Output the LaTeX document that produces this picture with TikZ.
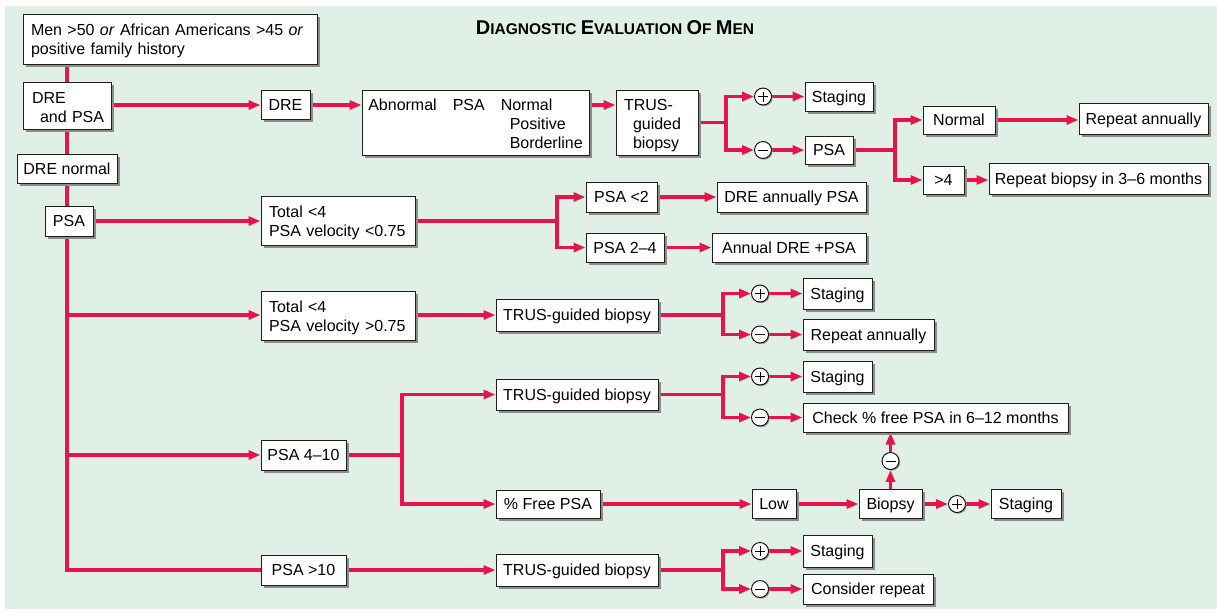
\documentclass[tikz,border=0pt]{standalone}
\usepackage{fontspec}
\setmainfont{Liberation Sans}
\usetikzlibrary{arrows.meta,shadows}
\definecolor{bgc}{RGB}{224,240,230}
\definecolor{myred}{RGB}{230,20,72}
\newcommand\bigLetter[1]{{\fontsize{20}{20}\selectfont #1}}
\newcommand\mlines[2][-2.5pt]{\raisebox{#1}[\height][\depth]{\begin{tabular}{@{}l@{}}#2\end{tabular}}}
\pgfdeclarelayer{bgl}
\pgfdeclarelayer{linel}
\pgfsetlayers{bgl,linel,main}
\tikzset{
  boxbase/.style={draw=black!88, fill=white, line width=1pt, inner sep=0pt,
    font=\fontsize{16}{18.8}\selectfont,
    drop shadow={shadow xshift=2.5pt, shadow yshift=-2.5pt, fill=black!45, opacity=1}},
  box/.style={boxbase, text height=11.5pt, text depth=0pt},
  lbox/.style={boxbase, align=left, inner xsep=8pt},
  ln/.style={draw=myred, line width=3.2pt},
  arr/.style={ln, -{Triangle[length=12pt,width=9pt]}},
  sgn/.style={circle, draw=black, fill=white, line width=0.9pt, minimum size=17pt, inner sep=0pt,
    drop shadow={shadow xshift=1.2pt, shadow yshift=-1.2pt, fill=black!40, opacity=1}},
  plussign/.style={sgn, path picture={\draw[line width=1pt]
    ([xshift=-5pt]path picture bounding box.center) -- ([xshift=5pt]path picture bounding box.center)
    ([yshift=-5pt]path picture bounding box.center) -- ([yshift=5pt]path picture bounding box.center);}},
  minussign/.style={sgn, path picture={\draw[line width=1pt]
    ([xshift=-5pt]path picture bounding box.center) -- ([xshift=5pt]path picture bounding box.center);}},
}
\begin{document}
\begin{tikzpicture}[x=1pt,y=-1pt]
\useasboundingbox (0,0) rectangle (1217,611);
\begin{pgfonlayer}{bgl}
\fill[bgc] (5,6) rectangle (1217,609);
\end{pgfonlayer}

% title
\node[font=\bfseries\fontsize{15.5}{20}\selectfont, anchor=base] (title) at (615,34)
  {\bigLetter{D}IAGNOSTIC \bigLetter{E}VALUATION \bigLetter{O}F \bigLetter{M}EN};

% left column
\node[lbox, text width=278pt, minimum height=50pt] (top) at (170,39)
  {\mlines{Men >50 \textit{or} African Americans >45 \textit{or}\\positive family history}};
\coordinate (v0) at (67,64);
\node[lbox, inner xsep=9pt, text width=70pt, minimum height=47pt] (dap) at (67,105.5)
  {\mlines[-3.5pt]{DRE\\\hspace*{8pt}and PSA}};
\node[box, minimum width=100pt, minimum height=29pt] (dn) at (67,168.5) {DRE normal};
\node[box, minimum width=48pt, minimum height=30pt] (psa) at (69,221) {PSA};

% row 1
\node[box, minimum width=49pt, minimum height=29pt] (dre) at (285.5,105) {DRE};
\node[boxbase, minimum width=227pt, minimum height=65pt] (abn) at (475.5,122.5)
  {\raisebox{-3pt}[\height][\depth]{\begin{tabular}{@{}l@{\hspace{16pt}}l@{\hspace{16pt}}l@{}}
   Abnormal & PSA & Normal\\
   & & \hspace*{9pt}Positive\\
   & & \hspace*{9pt}Borderline
   \end{tabular}}};
\node[lbox, text width=66pt, minimum height=65pt] (trus0) at (657,122.5)
  {\mlines[-3pt]{TRUS-\\\hspace*{9pt}guided\\\hspace*{9pt}biopsy}};
\coordinate (b0) at (726,122.5);
\node[plussign] (p0) at (763,96.5) {};
\node[minussign] (m0) at (763,150) {};
\node[box, minimum width=68pt, minimum height=29pt] (stg0) at (839,96.5) {Staging};
\node[box, minimum width=48pt, minimum height=28pt] (psaB) at (829,150) {PSA};
\coordinate (b1) at (895,150);
\node[box, minimum width=72pt, minimum height=28pt] (norm) at (959,120) {Normal};
\node[box, minimum width=41pt, minimum height=28pt] (gt4) at (943.5,180) {>4};
\node[box, minimum width=129pt, minimum height=31pt] (rep0) at (1143.5,119) {Repeat annually};
\node[box, minimum width=219pt, minimum height=31pt] (rb) at (1098.5,179) {Repeat biopsy in 3–6 months};

% row 2
\node[lbox, text width=138pt, minimum height=49pt] (tot1) at (338,220.5)
  {\mlines{Total <4\\PSA velocity <0.75}};
\coordinate (b2) at (557,221);
\node[box, minimum width=71pt, minimum height=30pt] (pl2) at (621.5,197) {PSA <2};
\node[box, minimum width=78pt, minimum height=29pt] (p24) at (625,247.5) {PSA 2–4};
\node[box, minimum width=149pt, minimum height=30pt] (drea) at (791.5,197) {DRE annually PSA};
\node[box, minimum width=154pt, minimum height=29pt] (ann) at (789,247.5) {Annual DRE +PSA};

% row 3
\node[lbox, text width=138pt, minimum height=49pt] (tot2) at (338,316)
  {\mlines{Total <4\\PSA velocity >0.75}};
\node[box, minimum width=162pt, minimum height=32pt] (trus1) at (577,315) {TRUS-guided biopsy};
\coordinate (b3) at (723,315);
\node[plussign] (p1) at (760,293.5) {};
\node[minussign] (m1) at (760,334.5) {};
\node[box, minimum width=69pt, minimum height=31pt] (stg1) at (837.5,293.5) {Staging};
\node[box, minimum width=131pt, minimum height=31pt] (rep1) at (868.5,334.5) {Repeat annually};

% row 4
\node[box, minimum width=85pt, minimum height=30pt] (p410) at (303.5,455) {PSA 4–10};
\coordinate (b4) at (402,455);
\node[box, minimum width=162pt, minimum height=31pt] (trus2) at (577,394.5) {TRUS-guided biopsy};
\coordinate (b5) at (723,394.5);
\node[plussign] (p2) at (760,376.5) {};
\node[minussign] (m2) at (760,417.5) {};
\node[box, minimum width=69pt, minimum height=31pt] (stg2) at (837.5,376.5) {Staging};
\node[box, minimum width=265pt, minimum height=29pt] (check) at (935.5,417.5) {Check \% free PSA in 6–12 months};
\node[box, minimum width=104pt, minimum height=28pt] (free) at (548,504) {\% Free PSA};
\node[box, minimum width=44pt, minimum height=29pt] (low) at (774,504) {Low};
\node[box, minimum width=63pt, minimum height=29pt] (bio) at (890.5,504) {Biopsy};
\node[minussign] (m3) at (890.5,461) {};
\node[plussign] (p3) at (957,504) {};
\node[box, minimum width=70pt, minimum height=29pt] (stg3) at (1026,504) {Staging};

% row 5
\node[box, minimum width=85pt, minimum height=30pt] (p10) at (303.5,570) {PSA >10};
\node[box, minimum width=162pt, minimum height=32pt] (trus3) at (577,570) {TRUS-guided biopsy};
\coordinate (b6) at (723,570);
\node[plussign] (p4) at (760,551) {};
\node[minussign] (m4) at (760,589) {};
\node[box, minimum width=69pt, minimum height=32pt] (stg4) at (837.5,551) {Staging};
\node[box, minimum width=130pt, minimum height=30pt] (cons) at (868,589) {Consider repeat};

\begin{pgfonlayer}{linel}
% main vertical
\draw[ln] (v0) -- (v0 |- p10.west) -- (p10.west);
\draw[arr] (v0 |- trus1.west) -- (tot2.west |- trus1.west);
\draw[arr] (v0 |- p410.west) -- (p410.west);
% row 1
\draw[arr] (dap.east |- dre.west) -- (dre.west);
\draw[arr] (dre.east) -- (dre.east -| abn.west);
\draw[arr] (abn.east |- dre.east) -- (trus0.west |- dre.east);
\draw[ln] (trus0.east) -- (b0);
\draw[arr] (b0) |- (p0.west);
\draw[arr] (b0) |- (m0.west);
\draw[arr] (p0.east) -- (stg0.west);
\draw[arr] (m0.east) -- (psaB.west);
\draw[ln] (psaB.east) -- (b1);
\draw[arr] (b1) |- (norm.west);
\draw[arr] (b1) |- (gt4.west);
\draw[arr] (norm.east) -- (norm.east -| rep0.west);
\draw[arr] (gt4.east) -- (gt4.east -| rb.west);
% row 2
\draw[arr] (psa.east) -- (psa.east -| tot1.west);
\draw[ln] (tot1.east |- psa.east) -- (b2);
\draw[arr] (b2) |- (pl2.west);
\draw[arr] (b2) |- (p24.west);
\draw[arr] (pl2.east) -- (drea.west);
\draw[arr] (p24.east) -- (ann.west);
% row 3
\draw[arr] (tot2.east |- trus1.west) -- (trus1.west);
\draw[ln] (trus1.east) -- (b3);
\draw[arr] (b3) |- (p1.west);
\draw[arr] (b3) |- (m1.west);
\draw[arr] (p1.east) -- (stg1.west);
\draw[arr] (m1.east) -- (rep1.west);
% row 4
\draw[ln] (p410.east) -- (b4);
\draw[arr] (b4) |- (trus2.west);
\draw[arr] (b4) |- (free.west);
\draw[ln] (trus2.east) -- (b5);
\draw[arr] (b5) |- (p2.west);
\draw[arr] (b5) |- (m2.west);
\draw[arr] (p2.east) -- (stg2.west);
\draw[arr] (m2.east) -- (check.west);
\draw[arr] (free.east) -- (low.west);
\draw[arr] (low.east) -- (bio.west);
\draw[arr] (bio.east) -- (p3.west);
\draw[arr] (p3.east) -- (stg3.west);
\draw[arr] (bio.north) -- (m3.south);
\draw[arr] (m3.north) -- (m3.north |- check.south);
% row 5
\draw[arr] (p10.east) -- (trus3.west);
\draw[ln] (trus3.east) -- (b6);
\draw[arr] (b6) |- (p4.west);
\draw[arr] (b6) |- (m4.west);
\draw[arr] (p4.east) -- (stg4.west);
\draw[arr] (m4.east) -- (cons.west);
\end{pgfonlayer}
\end{tikzpicture}
\end{document}
